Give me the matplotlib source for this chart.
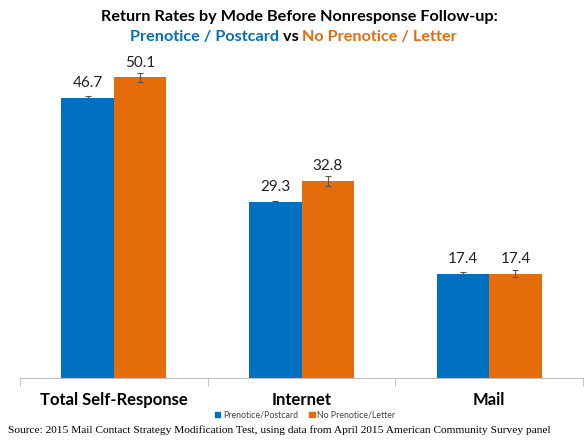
import matplotlib
matplotlib.use("Agg")
import matplotlib.pyplot as plt
import numpy as np
from matplotlib.offsetbox import TextArea, HPacker, AnchoredOffsetbox
from matplotlib.patches import Patch

categories = ["Total Self-Response", "Internet", "Mail"]
prenotice = [46.7, 29.3, 17.4]
no_prenotice = [50.1, 32.8, 17.4]
prenotice_err = [0.25, 0.15, 0.2]
no_prenotice_err = [0.75, 0.8, 0.6]
series_names = ["Prenotice/Postcard", "No Prenotice/Letter"]

BLUE = "#0070C0"
ORANGE = "#E46C0A"
FONT = "Lato"

fig = plt.figure(figsize=(5.87, 4.41), dpi=100)
ax = fig.add_axes([20/587, 1-378/441, 563/587, 360/441])

x = np.arange(len(categories))
w = 0.28
ax.bar(x - w/2, prenotice, w, color=BLUE, yerr=prenotice_err,
       error_kw=dict(ecolor="#555555", elinewidth=0.8, capsize=2, capthick=0.8))
ax.bar(x + w/2, no_prenotice, w, color=ORANGE, yerr=no_prenotice_err,
       error_kw=dict(ecolor="#555555", elinewidth=0.8, capsize=2, capthick=0.8))

for xi, v in zip(x - w/2, prenotice):
    ax.text(xi, v + 1.3, f"{v:.1f}", ha="center", va="bottom", fontsize=11, family=FONT, color="#222222")
for xi, v in zip(x + w/2, no_prenotice):
    ax.text(xi, v + 1.3, f"{v:.1f}", ha="center", va="bottom", fontsize=11, family=FONT, color="#222222")

ax.set_xlim(-0.5, len(categories) - 0.5)
ax.set_ylim(0, 60)
ax.set_yticks([])
for s in ["left", "right", "top"]:
    ax.spines[s].set_visible(False)
ax.spines["bottom"].set_color("#BFBFBF")
ax.set_xticks(x)
ax.set_xticklabels(categories, fontsize=12, fontweight="bold", family=FONT)
ax.tick_params(axis="x", which="major", length=0, pad=10)
ax.set_xticks(np.arange(-0.5, len(categories)), minor=True)
ax.tick_params(axis="x", which="minor", length=6, color="#BFBFBF")

# Title
fig.text(0.51, 1-17/441, "Return Rates by Mode Before Nonresponse Follow-up:",
         ha="center", va="center", fontsize=11.7, fontweight="bold", family=FONT)
parts = [("Prenotice / Postcard", BLUE), (" vs ", "black"), ("No Prenotice / Letter", ORANGE)]
boxes = [TextArea(t, textprops=dict(color=c, fontsize=11.7, fontweight="bold", family=FONT)) for t, c in parts]
pack = HPacker(children=boxes, align="baseline", pad=0, sep=0)
ab = AnchoredOffsetbox(loc="center", child=pack, frameon=False,
                       bbox_to_anchor=(0.50, 1-37/441), bbox_transform=fig.transFigure, pad=0, borderpad=0)
fig.add_artist(ab)

# Legend
handles = [Patch(color=BLUE), Patch(color=ORANGE)]
fig.legend(handles, series_names, loc="center", bbox_to_anchor=(0.52, 1-415/441), ncol=2,
           frameon=False, prop=dict(family=FONT, size=6.3), handlelength=0.6, handleheight=0.6,
           handletextpad=0.3, columnspacing=1.3, labelcolor="#444444")

fig.text(8/587, 1-430/441,
         "Source: 2015 Mail Contact Strategy Modification Test, using data from April 2015 American Community Survey panel",
         ha="left", va="center", fontsize=8.2, family="Liberation Serif")

fig.savefig("out.png", dpi=100)
